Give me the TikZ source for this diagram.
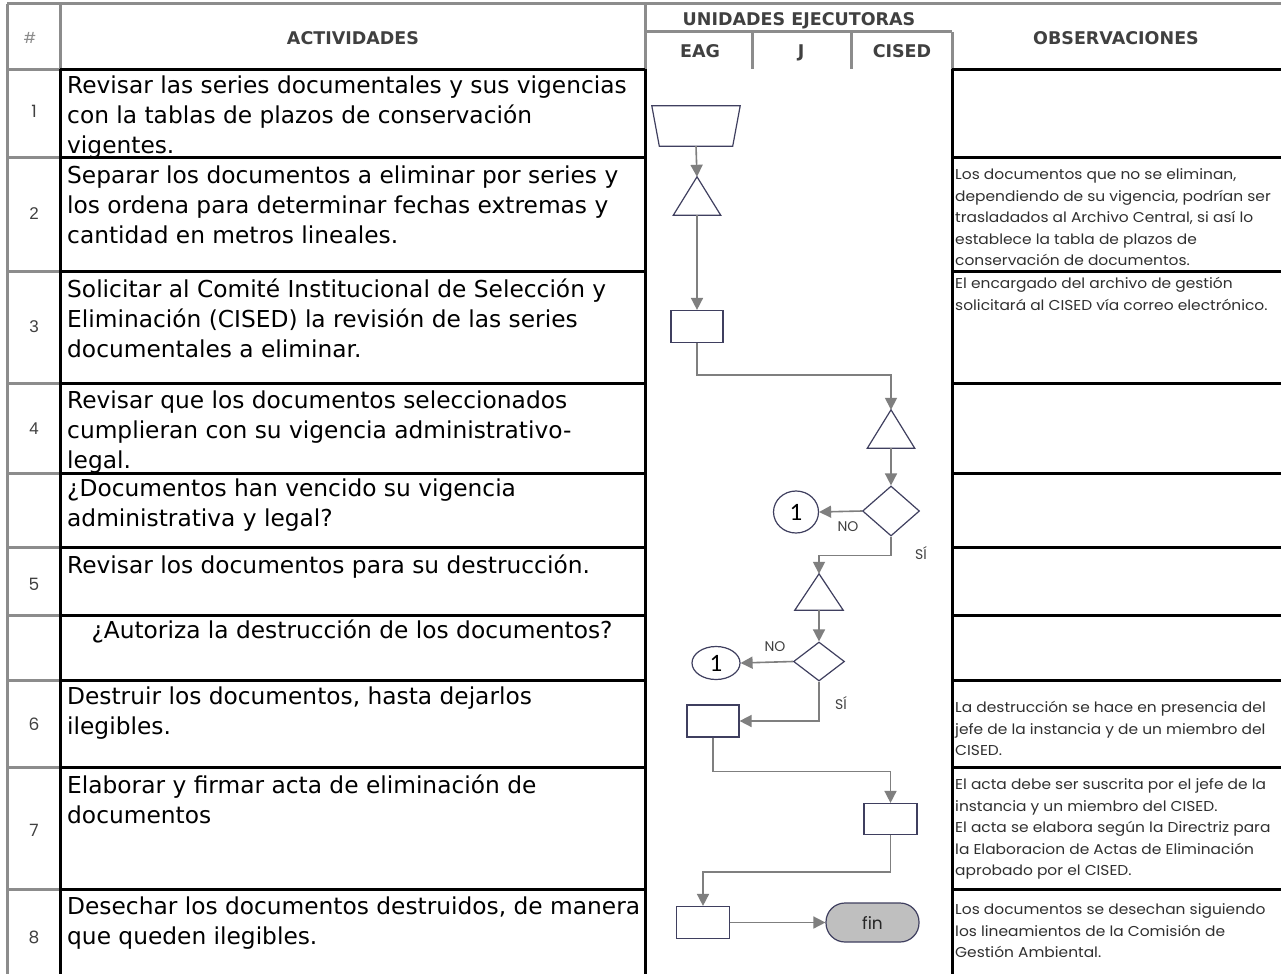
\documentclass[tikz,border=0pt]{standalone}
\usepackage{fontspec}
\setmainfont{DejaVu Sans}
\newfontfamily\obsfont[FakeStretch=1.08]{Poppins}
\newfontfamily\geofont{Poppins}
\newfontfamily\arialfont{Liberation Sans}
\newfontfamily\calfont{Carlito}
\usetikzlibrary{arrows.meta,shapes.geometric}
\definecolor{gridgray}{HTML}{8C8C8C}
\definecolor{shapeblue}{HTML}{3F3F5F}
\definecolor{conngray}{HTML}{7F7F7F}
\definecolor{fingray}{HTML}{BFBFBF}
\definecolor{txtgray}{HTML}{404040}
\definecolor{obsgray}{HTML}{303030}
\begin{document}
\begin{tikzpicture}[x=1pt,y=-1pt,
  gridline/.style={draw=gridgray,line width=3pt},
  cellline/.style={draw=black,line width=3pt},
  acttext/.style={anchor=north west,inner sep=0pt,align=left,font=\fontsize{23.3}{30}\selectfont},
  obstext/.style={anchor=north west,inner sep=0pt,align=left,font=\obsfont\fontsize{14.3}{21.5}\selectfont,text=obsgray},
  numtext/.style={inner sep=0pt,font=\geofont\fontsize{17}{19}\selectfont,text=txtgray},
  numtextb/.style={inner sep=0pt,font=\arialfont\fontsize{17}{19}\selectfont,text=txtgray},
  hdr/.style={inner sep=0pt,text depth=0pt,font=\bfseries\fontsize{17.5}{20}\selectfont,text=txtgray},
  lbl/.style={inner sep=0pt,font=\geofont\fontsize{14}{16}\selectfont,text=txtgray},
  circ/.style={ellipse,draw=shapeblue,line width=1.2pt,fill=white,inner sep=0pt,font=\calfont\fontsize{25}{27}\selectfont},
  invis/.style={draw=none,inner sep=0pt},
  shapeline/.style={draw=shapeblue,line width=1.2pt,fill=white},
  box/.style={draw=shapeblue,line width=1.2pt,fill=white,minimum width=52pt,minimum height=32pt,inner sep=0pt},
  conn/.style={draw=conngray,line width=1.6pt,-{Triangle[length=12pt,width=12pt]}},
]
\useasboundingbox (0,0) rectangle (1281,974);
\fill[white] (0,0) rectangle (1281,974);

% ---------- header text ----------
\node[numtext,text=gridgray,font=\geofont\fontsize{15}{17}\selectfont] (hnum) at (30,38) {\#};
\node[hdr] (hact) at (353,38) {ACTIVIDADES};
\node[hdr] (huni) at (799,19) {UNIDADES EJECUTORAS};
\node[hdr] (heag) at (700,51) {EAG};
\node[hdr] (hj) at (801,51) {J};
\node[hdr] (hcised) at (902,51) {CISED};
\node[hdr] (hobs) at (1116,38) {OBSERVACIONES};

% ---------- numbers ----------
\node[numtext] (n1) at (34,111) {1};
\node[numtextb] (n2) at (34,214) {2};
\node[numtextb] (n3) at (34,327) {3};
\node[numtextb] (n4) at (34,429) {4};
\node[numtext] (n5) at (34,584) {5};
\node[numtext] (n6) at (34,724) {6};
\node[numtext] (n7) at (34,830) {7};
\node[numtext] (n8) at (34,937) {8};

% ---------- activities ----------
\node[acttext] (a1) at (67,72) {\strut Revisar las series documentales y sus vigencias\\con la tablas de plazos de conservación\\vigentes.};
\node[acttext] (a2) at (67,162) {\strut Separar los documentos a eliminar por series y\\los ordena para determinar fechas extremas y\\cantidad en metros lineales.};
\node[acttext] (a3) at (67,276) {\strut Solicitar al Comité Institucional de Selección y\\Eliminación (CISED) la revisión de las series\\documentales a eliminar.};
\node[acttext] (a4) at (67,387) {\strut Revisar que los documentos seleccionados\\cumplieran con su vigencia administrativo-\\legal.};
\node[acttext] (ad1) at (67,475) {\strut ¿Documentos han vencido su vigencia\\administrativa y legal?};
\node[acttext] (a5) at (67,552) {\strut Revisar los documentos para su destrucción.};
\node[acttext,anchor=north] (ad2) at (352,617) {\strut ¿Autoriza la destrucción de los documentos?};
\node[acttext] (a6) at (67,683) {\strut Destruir los documentos, hasta dejarlos\\ilegibles.};
\node[acttext] (a7) at (67,772) {\strut Elaborar y firmar acta de eliminación de\\documentos};
\node[acttext] (a8) at (67,893) {\strut Desechar los documentos destruidos, de manera\\que queden ilegibles.};

% ---------- observations ----------
\node[obstext] (o2) at (955,164.5) {\strut Los documentos que no se eliminan,\\dependiendo de su vigencia, podrían ser\\trasladados al Archivo Central, si así lo\\establece la tabla de plazos de\\conservación de documentos.};
\node[obstext] (o3) at (955,273.5) {\strut El encargado del archivo de gestión\\solicitará al CISED vía correo electrónico.};
\node[obstext] (o6) at (955,697.5) {\strut La destrucción se hace en presencia del\\jefe de la instancia y de un miembro del\\CISED.};
\node[obstext] (o7) at (955,774.5) {\strut El acta debe ser suscrita por el jefe de la\\instancia y un miembro del CISED.\\El acta se elabora según la Directriz para\\la Elaboracion de Actas de Eliminación\\aprobado por el CISED.};
\node[obstext] (o8) at (955,899.5) {\strut Los documentos se desechan siguiendo\\los lineamientos de la Comisión de\\Gestión Ambiental.};

% ---------- grid (gray) ----------
\draw[gridline] (7,4) -- (1281,4);
\draw[gridline] (7,4) -- (7,974);
\draw[gridline] (60,4) -- (60,69);
\draw[gridline] (645,4) -- (645,69);
\draw[gridline] (645,32) -- (952,32);
\draw[gridline] (752,32) -- (752,69);
\draw[gridline] (851,32) -- (851,69);
\draw[gridline] (952,32) -- (952,69);
\foreach \yy in {69,157,271,383,473,547,615,680,767,889}{
  \draw[gridline] (7,\yy) -- (60,\yy);
}
% ---------- cells (black) ----------
\foreach \yy in {69,157,271,383,473,547,615,680,767,889}{
  \draw[cellline] (60,\yy) -- (645,\yy);
  \draw[cellline] (952,\yy) -- (1281,\yy);
}
\draw[cellline] (60,69) -- (60,974);
\draw[cellline] (645,69) -- (645,974);
\draw[cellline] (952,69) -- (952,974);

% ---------- flowchart ----------
\node[invis,minimum width=88pt,minimum height=40pt] (t0) at (696,126) {};
\draw[shapeline] (t0.north west) -- (t0.north east) -- ([xshift=-7.5pt]t0.south east) -- ([xshift=7.5pt]t0.south west) -- cycle;

\node[invis,minimum width=47pt,minimum height=38pt] (tr1) at (697,196) {};
\draw[shapeline] (tr1.south west) -- (tr1.north) -- (tr1.south east) -- cycle;

\node[box] (r3) at (697,326.5) {};

\node[invis,minimum width=47pt,minimum height=38pt] (tr2) at (891,429) {};
\draw[shapeline] (tr2.south west) -- (tr2.north) -- (tr2.south east) -- cycle;

\node[diamond,shapeline,minimum width=57pt,minimum height=50pt,inner sep=0pt] (d1) at (891,511) {};
\node[circ,minimum width=45pt,minimum height=42pt] (c1) at (796,512) {1};
\node[lbl] (no1) at (848,527) {NO};
\node[lbl] (si1) at (921,553) {SÍ};

\node[invis,minimum width=48pt,minimum height=36pt] (tr3) at (819,592) {};
\draw[shapeline] (tr3.south west) -- (tr3.north) -- (tr3.south east) -- cycle;

\node[diamond,shapeline,minimum width=51pt,minimum height=39pt,inner sep=0pt] (d2) at (819,661.5) {};
\node[circ,minimum width=48pt,minimum height=33pt] (c2) at (716,663) {1};
\node[lbl] (no2) at (775,647) {NO};
\node[lbl] (si2) at (841,703) {SÍ};

\node[box] (r6) at (713,721) {};
\node[box,minimum width=53pt,minimum height=31pt] (r7) at (890.5,819) {};
\node[box,minimum width=53pt] (r8) at (703,922.5) {};
\node[draw=shapeblue,line width=1.2pt,fill=fingray,rounded corners=19pt,minimum width=93pt,minimum height=39pt,inner sep=0pt,font=\geofont\fontsize{17}{19}\selectfont,text=black!85] (fin) at (872.5,922.5) {fin};

\draw[conn] (t0.south) -- (tr1.north);
\draw[conn] (tr1.south) -- (r3.north);
\draw[conn] (r3.south) -- ++(0,32) -| (tr2.north);
\draw[conn] (tr2.south) -- (d1.north);
\draw[conn] (d1.west) -- (c1.east);
\draw[conn] (d1.south) -- ++(0,19) -| (tr3.north);
\draw[conn] (tr3.south) -- (d2.north);
\draw[conn] (d2.west) -- (c2.east);
\draw[conn] (d2.south) |- (r6.east);
\draw[conn] (r6.south) -- ++(0,34) -| (r7.north);
\draw[conn] (r7.south) -- ++(0,37) -| (r8.north);
\draw[conn] (r8.east) -- (fin.west);
\end{tikzpicture}
\end{document}
